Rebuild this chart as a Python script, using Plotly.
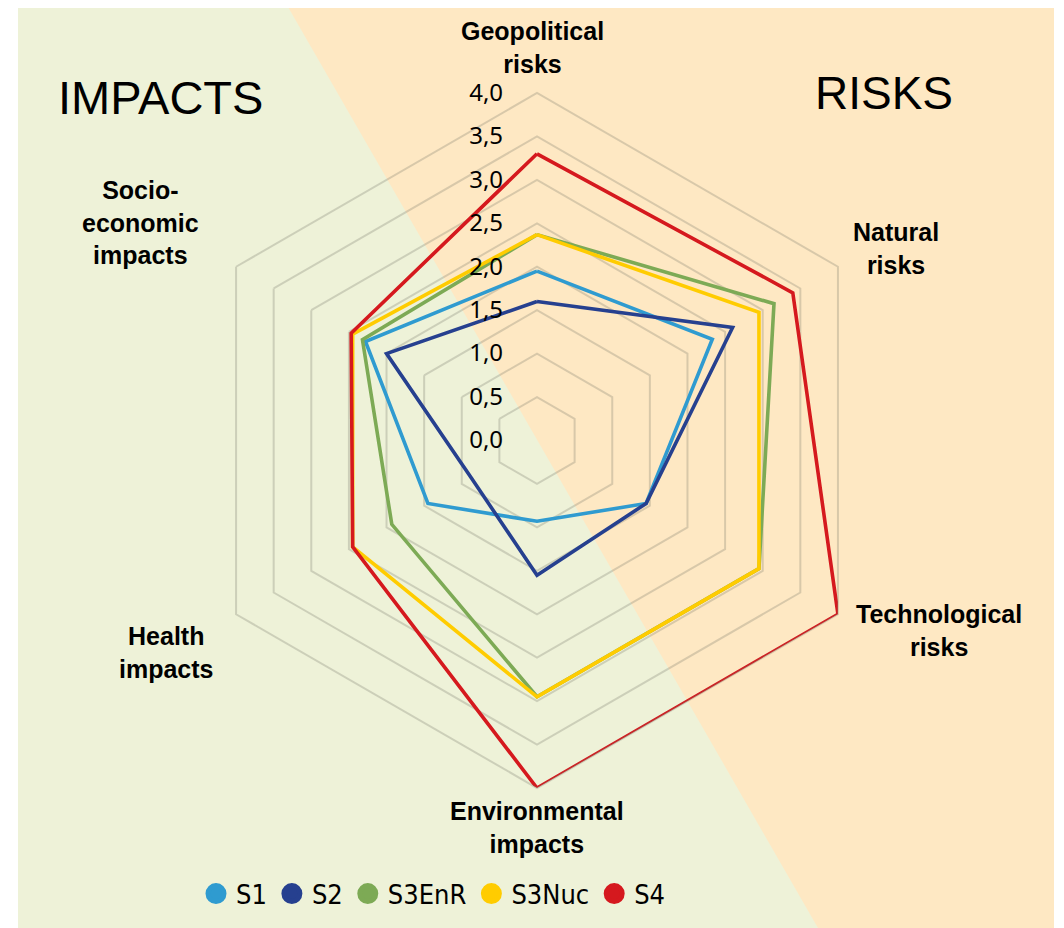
import plotly.graph_objects as go

# page body has an 8px margin; figure covers the coloured area of the reference
OFF = 8
W, H = 1048, 920

categories = ["Geopolitical risks", "Natural risks", "Technological risks",
              "Environmental impacts", "Health impacts", "Socio-economic impacts"]
series_names = ["S1", "S2", "S3EnR", "S3Nuc", "S4"]
s1 = [1.95, 2.33, 1.45, 0.93, 1.45, 2.28]
s2 = [1.60, 2.60, 1.45, 1.55, 0.87, 2.00]
s3enr = [2.37, 3.15, 2.95, 2.95, 1.93, 2.32]
s3nuc = [2.37, 2.95, 2.95, 2.95, 2.45, 2.45]
s4 = [3.30, 3.40, 4.00, 4.00, 2.45, 2.47]
series_values = [s1, s2, s3enr, s3nuc, s4]
colors = ["#2F9BD0", "#26408F", "#7DAA55", "#FFCC00", "#D5191E"]
radial_ticks = [0, 0.5, 1, 1.5, 2, 2.5, 3, 3.5, 4]

axis_labels = ["Geopolitical<br>risks", "Natural<br>risks", "Technological<br>risks",
               "Environmental<br>impacts", "Health<br>impacts", "Socio-<br>economic<br>impacts"]
label_pos = [(532, 48), (896, 248), (939, 630), (537, 827), (166, 652), (140, 222)]


def px(x):
    return (x - OFF) / W


def py(y):
    return 1 - (y - OFF) / H


fig = go.Figure()
for name, vals, col in zip(series_names, series_values, colors):
    fig.add_trace(go.Scatterpolar(
        r=vals + vals[:1], theta=categories + categories[:1],
        mode="lines", line=dict(color=col, width=3.6),
        name=name, legendgroup=name, showlegend=False, hoverinfo="skip"))
for name, col in zip(series_names, colors):
    fig.add_trace(go.Scatterpolar(
        r=[None], theta=[categories[0]], mode="markers",
        marker=dict(size=16, color=col, line=dict(color=col, width=5)),
        name=name, legendgroup=name, showlegend=True))

cx, cy, R = 537, 440.5, 347.5
grid_col = "rgba(120,118,105,0.28)"

shapes = [
    dict(type="rect", xref="paper", yref="paper", layer="below",
         x0=px(18), x1=px(1054), y0=py(928), y1=py(5),
         fillcolor="#EEF2D8", line=dict(width=0)),
    dict(type="path", xref="paper", yref="paper", layer="below",
         path=f"M {px(284)},{py(0)} L {px(1054)},{py(0)} L {px(1054)},{py(928)} L {px(818)},{py(928)} Z",
         fillcolor="#FEE8C3", line=dict(width=0)),
]

annotations = []
for txt, (x, y) in zip(axis_labels, label_pos):
    annotations.append(dict(text=f"<b>{txt}</b>", x=px(x), y=py(y), xref="paper", yref="paper",
                            showarrow=False, xanchor="center", yanchor="middle",
                            font=dict(family="Liberation Sans, Arial", size=25, color="black")))
annotations.append(dict(text="IMPACTS", x=px(160), y=py(97), xref="paper", yref="paper",
                        showarrow=False, xanchor="center", yanchor="middle",
                        font=dict(family="Liberation Sans, Arial", size=47, color="black")))
annotations.append(dict(text="RISKS", x=px(884), y=py(93), xref="paper", yref="paper",
                        showarrow=False, xanchor="center", yanchor="middle",
                        font=dict(family="Liberation Sans, Arial", size=46, color="black")))

fig.update_layout(
    width=W, height=H,
    margin=dict(l=0, r=0, t=0, b=0),
    paper_bgcolor="white",
    separators=", ",
    shapes=shapes,
    annotations=annotations,
    polar=dict(
        domain=dict(x=[px(cx - R), px(cx + R)], y=[py(cy + R), py(cy - R)]),
        bgcolor="rgba(0,0,0,0)",
        gridshape="linear",
        angularaxis=dict(direction="clockwise", rotation=90, showticklabels=False,
                         ticks="", showgrid=False, showline=True,
                         linecolor=grid_col, linewidth=2),
        radialaxis=dict(range=[0, 4], angle=90, tickangle=90, side="counterclockwise",
                        tickvals=radial_ticks, tickformat=".1f",
                        showline=False, showgrid=True, gridcolor=grid_col, gridwidth=2,
                        ticks="outside", ticklen=25, tickcolor="rgba(0,0,0,0)",
                        tickfont=dict(family="Noto Sans", size=24, color="black")),
    ),
    legend=dict(orientation="h", x=px(196), xanchor="left", y=py(894), yanchor="middle",
                bgcolor="rgba(0,0,0,0)",
                font=dict(family="Liberation Sans Narrow, DejaVu Sans Condensed, Roboto", size=27, color="black")),
)

fig.write_html("out.html")
